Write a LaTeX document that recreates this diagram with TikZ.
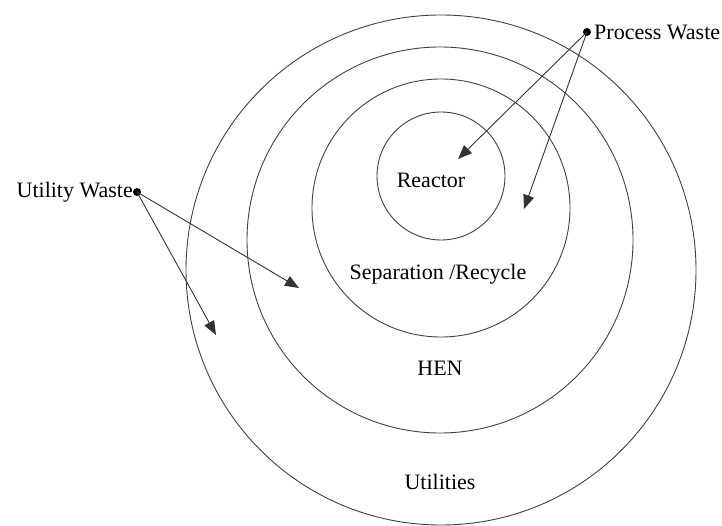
\documentclass[tikz,border=0pt]{standalone}
\usepackage{fontspec}
\setmainfont{Liberation Serif}
\usetikzlibrary{arrows.meta}
\begin{document}
\begin{tikzpicture}[x=1pt,y=-1pt,
  ring/.style={draw=black!75,line width=0.9pt},
  lbl/.style={font=\fontsize{22}{26}\selectfont,inner sep=0pt},
  dotnode/.style={circle,fill=black,inner sep=0pt,minimum size=8pt},
  flow/.style={draw=black!80,line width=0.9pt,-{Triangle[length=14pt,width=11pt]}}]
\useasboundingbox (0,0) rectangle (722,526);
% ring centres
\coordinate (c1) at (441,176);
\coordinate (c2) at (441,208);
\coordinate (c3) at (440,240);
\coordinate (c4) at (441,270);
\draw[ring] (c4) circle[radius=255];
\draw[ring] (c3) circle[radius=193];
\draw[ring] (c2) circle[radius=129];
\draw[ring] (c1) circle[radius=64];
% labels
\node[lbl] (reactor) at (431,180) {Reactor};
\node[lbl] (sep) at (438,274) {Separation /Recycle};
\node[lbl] (hen) at (440,368) {HEN};
\node[lbl] (util) at (440,482) {Utilities};
% waste sources
\node[dotnode] (pw) at (587,32) {};
\node[lbl,anchor=west] (pwl) at (594,32) {Process Waste};
\node[dotnode] (uw) at (137,192) {};
\node[lbl,anchor=east] (uwl) at (133,192) {Utility Waste};
% arrow targets
\coordinate (t1) at (458,159);
\coordinate (t2) at (524,209);
\coordinate (t3) at (299,288);
\coordinate (t4) at (216,335);
\draw[flow] (pw.center) -- (t1);
\draw[flow] (pw.center) -- (t2);
\draw[flow] (uw.center) -- (t3);
\draw[flow] (uw.center) -- (t4);
\end{tikzpicture}
\end{document}
